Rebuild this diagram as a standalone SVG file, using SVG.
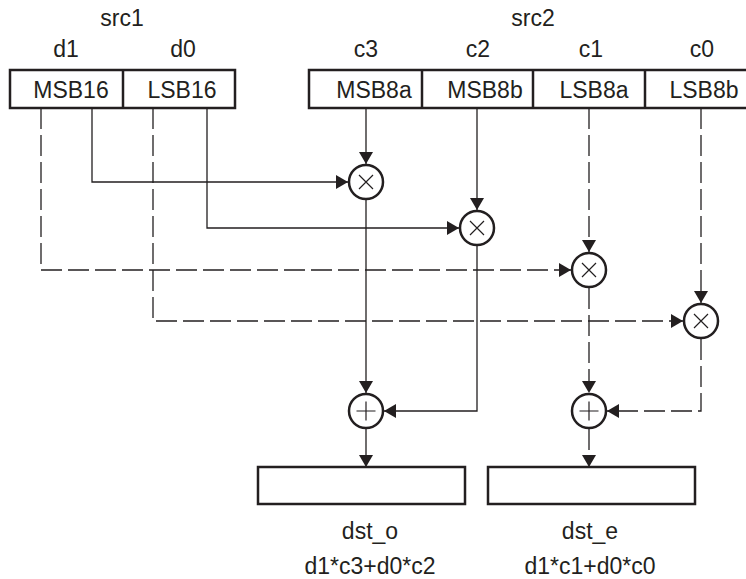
<svg xmlns="http://www.w3.org/2000/svg" width="746" height="579" viewBox="0 0 746 579">
  <style>
    .lbl { font-family: "Liberation Sans", Arial, sans-serif; font-size: 23px; fill: #231f20; text-anchor: middle; }
    .box { fill: #ffffff; stroke: #231f20; stroke-width: 2.5; }
    .div { stroke: #231f20; stroke-width: 2.5; }
    .op { fill: #ffffff; stroke: #231f20; stroke-width: 2.5; }
    .sym { stroke: #231f20; stroke-width: 1.2; fill: none; }
    .wire { fill: none; stroke: #231f20; stroke-width: 1.3; }
    .dash { stroke-dasharray: 21 6; }
    .arr { marker-end: url(#head); }
  </style>
  <defs>
    <marker id="head" markerUnits="userSpaceOnUse" markerWidth="14" markerHeight="14" viewBox="0 0 12 14" refX="12" refY="7" orient="auto">
      <path d="M0,0 L12,7 L0,14 Z" fill="#231f20"/>
    </marker>
  </defs>

  <rect width="746" height="579" fill="#ffffff"/>

  <!-- operand registers -->
  <g id="src1">
    <text class="lbl" x="122" y="26">src1</text>
    <text class="lbl" x="66" y="57">d1</text>
    <text class="lbl" x="183" y="57">d0</text>
    <rect class="box" x="10" y="70" width="225" height="38"/>
    <line class="div" x1="123" y1="70" x2="123" y2="108"/>
    <text class="lbl" x="71" y="98">MSB16</text>
    <text class="lbl" x="182" y="98">LSB16</text>
  </g>
  <g id="src2">
    <text class="lbl" x="533" y="26">src2</text>
    <text class="lbl" x="366" y="57">c3</text>
    <text class="lbl" x="478" y="57">c2</text>
    <text class="lbl" x="591" y="57">c1</text>
    <text class="lbl" x="702" y="57">c0</text>
    <rect class="box" x="309" y="70" width="440" height="38"/>
    <line class="div" x1="422" y1="70" x2="422" y2="108"/>
    <line class="div" x1="533" y1="70" x2="533" y2="108"/>
    <line class="div" x1="645" y1="70" x2="645" y2="108"/>
    <text class="lbl" x="374" y="98">MSB8a</text>
    <text class="lbl" x="485" y="98">MSB8b</text>
    <text class="lbl" x="594" y="98">LSB8a</text>
    <text class="lbl" x="704" y="98">LSB8b</text>
  </g>

  <!-- connectors -->
  <g id="connectors">
    <path class="wire arr" d="M92,108 V182 H348"/>
    <path class="wire arr" d="M207,108 V228 H459"/>
    <path class="wire dash arr" d="M41,108 V270 H571"/>
    <path class="wire dash arr" d="M153,108 V321 H683"/>
    <path class="wire arr" d="M366,108 V164"/>
    <path class="wire arr" d="M477,108 V210"/>
    <path class="wire dash arr" d="M589,108 V252"/>
    <path class="wire dash arr" d="M701,108 V303"/>
    <path class="wire arr" d="M366,200 V393"/>
    <path class="wire arr" d="M477,246 V411 H384"/>
    <path class="wire dash arr" d="M589,288 V393"/>
    <path class="wire dash arr" d="M701,339 V411 H607"/>
    <path class="wire arr" d="M366,429 V467"/>
    <path class="wire dash arr" d="M589,429 V467"/>
  </g>

  <!-- multipliers -->
  <g id="mul3">
    <circle class="op" cx="366" cy="182" r="17"/>
    <path class="sym" d="M359,175 L373,189 M373,175 L359,189"/>
  </g>
  <g id="mul2">
    <circle class="op" cx="477" cy="228" r="17"/>
    <path class="sym" d="M470,221 L484,235 M484,221 L470,235"/>
  </g>
  <g id="mul1">
    <circle class="op" cx="589" cy="270" r="17"/>
    <path class="sym" d="M582,263 L596,277 M596,263 L582,277"/>
  </g>
  <g id="mul0">
    <circle class="op" cx="701" cy="321" r="17"/>
    <path class="sym" d="M694,314 L708,328 M708,314 L694,328"/>
  </g>

  <!-- adders -->
  <g id="add_o">
    <circle class="op" cx="366" cy="411" r="17"/>
    <path class="sym" d="M356.5,411 H375.5 M366,401.5 V420.5"/>
  </g>
  <g id="add_e">
    <circle class="op" cx="589" cy="411" r="17"/>
    <path class="sym" d="M579.5,411 H598.5 M589,401.5 V420.5"/>
  </g>

  <!-- destination registers -->
  <g id="dst_o">
    <rect class="box" x="258" y="467" width="207" height="37"/>
    <text class="lbl" x="370" y="539">dst_o</text>
    <text class="lbl" x="370" y="574">d1*c3+d0*c2</text>
  </g>
  <g id="dst_e">
    <rect class="box" x="488" y="467" width="207" height="37"/>
    <text class="lbl" x="590" y="539">dst_e</text>
    <text class="lbl" x="590" y="574">d1*c1+d0*c0</text>
  </g>
</svg>
